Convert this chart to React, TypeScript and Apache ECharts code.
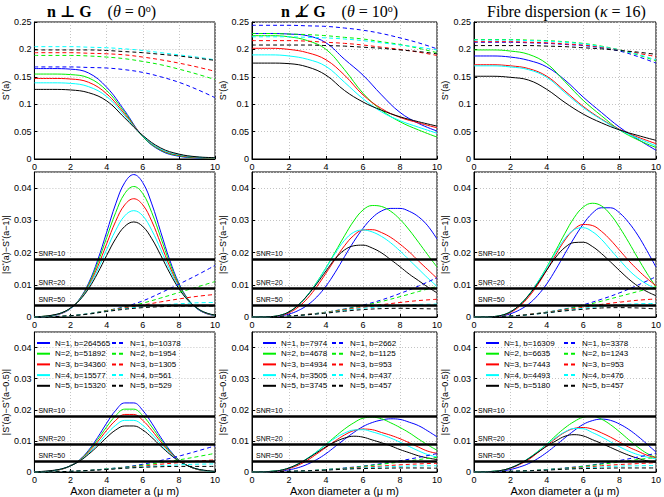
import React, { useEffect, useRef } from "react";
import * as echarts from "echarts";

// ---------- axes grids ----------
const X_COARSE = [0, 1, 2, 3, 4, 5, 6, 7, 8, 9, 10];
const X_FINE = [0, 0.5, 1, 1.5, 2, 2.5, 3, 3.5, 4, 4.5, 5, 5.5, 6, 6.5, 7, 7.5, 8, 8.5, 9, 9.5, 10];
const COLORS = ["#0000ff", "#00ee00", "#ff0000", "#00ffff", "#000000"];

// ---------- row 1 : S*(a) ----------
const S_PERP_SOLID = [
  [0.165, 0.165, 0.164, 0.157, 0.131, 0.088, 0.041, 0.015, 0.005, 0.002, 0.001],
  [0.155, 0.155, 0.154, 0.148, 0.125, 0.085, 0.041, 0.016, 0.006, 0.0025, 0.0012],
  [0.147, 0.147, 0.146, 0.14, 0.119, 0.082, 0.042, 0.017, 0.007, 0.003, 0.0015],
  [0.139, 0.139, 0.138, 0.132, 0.114, 0.079, 0.042, 0.018, 0.008, 0.0035, 0.002],
  [0.127, 0.127, 0.126, 0.121, 0.106, 0.075, 0.043, 0.02, 0.009, 0.004, 0.0025],
];
const S_PERP_DASHED = [
  [0.168, 0.168, 0.168, 0.167, 0.166, 0.163, 0.158, 0.15, 0.14, 0.127, 0.112],
  [0.189, 0.189, 0.189, 0.188, 0.186, 0.183, 0.178, 0.172, 0.164, 0.155, 0.145],
  [0.194, 0.194, 0.194, 0.193, 0.192, 0.19, 0.186, 0.181, 0.175, 0.168, 0.16],
  [0.205, 0.205, 0.205, 0.204, 0.203, 0.201, 0.198, 0.194, 0.19, 0.186, 0.181],
  [0.199, 0.199, 0.199, 0.199, 0.198, 0.196, 0.194, 0.191, 0.188, 0.184, 0.18],
];
const S_TILT_SOLID = [
  [0.229, 0.229, 0.228, 0.225, 0.212, 0.182, 0.153, 0.117, 0.085, 0.065, 0.051],
  [0.225, 0.225, 0.223, 0.216, 0.2, 0.163, 0.12, 0.089, 0.068, 0.053, 0.04],
  [0.202, 0.202, 0.2, 0.194, 0.181, 0.153, 0.117, 0.092, 0.076, 0.066, 0.057],
  [0.19, 0.19, 0.188, 0.182, 0.169, 0.14, 0.11, 0.086, 0.07, 0.058, 0.047],
  [0.175, 0.175, 0.174, 0.168, 0.153, 0.125, 0.104, 0.089, 0.077, 0.068, 0.06],
];
const S_TILT_DASHED = [
  [0.244, 0.244, 0.244, 0.243, 0.242, 0.239, 0.235, 0.229, 0.221, 0.212, 0.201],
  [0.229, 0.229, 0.228, 0.227, 0.225, 0.222, 0.219, 0.214, 0.209, 0.202, 0.194],
  [0.216, 0.216, 0.216, 0.215, 0.213, 0.211, 0.208, 0.204, 0.2, 0.195, 0.189],
  [0.223, 0.223, 0.223, 0.222, 0.221, 0.219, 0.216, 0.212, 0.208, 0.204, 0.199],
  [0.208, 0.208, 0.208, 0.208, 0.207, 0.206, 0.204, 0.202, 0.199, 0.196, 0.192],
];
const S_DISP_SOLID = [
  [0.188, 0.188, 0.186, 0.18, 0.168, 0.144, 0.113, 0.085, 0.058, 0.036, 0.016],
  [0.199, 0.199, 0.197, 0.191, 0.174, 0.141, 0.107, 0.079, 0.053, 0.035, 0.021],
  [0.172, 0.172, 0.17, 0.165, 0.151, 0.124, 0.096, 0.073, 0.054, 0.04, 0.028],
  [0.17, 0.17, 0.168, 0.163, 0.149, 0.121, 0.094, 0.072, 0.053, 0.038, 0.024],
  [0.151, 0.151, 0.149, 0.144, 0.127, 0.103, 0.082, 0.066, 0.053, 0.043, 0.034],
];
const S_DISP_DASHED = [
  [0.213, 0.213, 0.213, 0.212, 0.211, 0.209, 0.207, 0.203, 0.197, 0.187, 0.175],
  [0.218, 0.218, 0.218, 0.217, 0.216, 0.214, 0.211, 0.206, 0.199, 0.19, 0.179],
  [0.214, 0.214, 0.214, 0.213, 0.212, 0.21, 0.208, 0.204, 0.199, 0.193, 0.187],
  [0.217, 0.217, 0.217, 0.216, 0.215, 0.213, 0.21, 0.205, 0.199, 0.191, 0.181],
  [0.207, 0.207, 0.207, 0.207, 0.206, 0.205, 0.203, 0.201, 0.198, 0.195, 0.191],
];

// ---------- row 2 : |S*(a) - S*(a-1)| ----------
const D1_PERP_SOLID = [
  [0, 0.0001, 0.0004, 0.0011, 0.0026, 0.0056, 0.0105, 0.0176, 0.0263, 0.0351, 0.0417, 0.0442, 0.0417, 0.0351, 0.0263, 0.0176, 0.0105, 0.0056, 0.0026, 0.0011, 0.0004],
  [0, 0.0002, 0.0005, 0.0012, 0.0027, 0.0055, 0.0101, 0.0167, 0.0246, 0.0324, 0.0383, 0.0405, 0.0383, 0.0324, 0.0246, 0.0167, 0.0101, 0.0055, 0.0027, 0.0012, 0.0005],
  [0.0001, 0.0002, 0.0005, 0.0012, 0.0027, 0.0054, 0.0097, 0.0156, 0.0227, 0.0297, 0.0348, 0.0367, 0.0348, 0.0297, 0.0227, 0.0156, 0.0097, 0.0054, 0.0027, 0.0012, 0.0005],
  [0.0001, 0.0002, 0.0005, 0.0013, 0.0027, 0.0053, 0.0093, 0.0146, 0.0209, 0.0269, 0.0314, 0.033, 0.0314, 0.0269, 0.0209, 0.0146, 0.0093, 0.0053, 0.0027, 0.0013, 0.0005],
  [0.0001, 0.0002, 0.0006, 0.0013, 0.0028, 0.0052, 0.0088, 0.0136, 0.0191, 0.0243, 0.0281, 0.0295, 0.0281, 0.0243, 0.0191, 0.0136, 0.0088, 0.0052, 0.0028, 0.0013, 0.0006],
];
const D1_PERP_DASHED = [
  [0, 0.0001, 0.0004, 0.001, 0.002, 0.0032, 0.005, 0.0075, 0.0102, 0.013, 0.016],
  [0, 0.0001, 0.0004, 0.001, 0.002, 0.003, 0.0043, 0.0059, 0.0076, 0.0093, 0.011],
  [0, 0.0001, 0.0004, 0.001, 0.0019, 0.0028, 0.0037, 0.0047, 0.0056, 0.0064, 0.007],
  [0, 0.0001, 0.0004, 0.001, 0.0018, 0.0026, 0.0032, 0.0037, 0.0041, 0.0044, 0.0045],
  [0, 0.0001, 0.0004, 0.0009, 0.0017, 0.0024, 0.0029, 0.0032, 0.0034, 0.0034, 0.0034],
];
const D1_TILT_SOLID = [
  [0, 0, 0.0001, 0.0003, 0.0009, 0.002, 0.0037, 0.0062, 0.0096, 0.0139, 0.0187, 0.0234, 0.0275, 0.0308, 0.0329, 0.0337, 0.0337, 0.0328, 0.0311, 0.0283, 0.0242],
  [0, 0, 0.0001, 0.0005, 0.0016, 0.0037, 0.0068, 0.0108, 0.0153, 0.0202, 0.0252, 0.0298, 0.0332, 0.0346, 0.0343, 0.0328, 0.0303, 0.027, 0.0232, 0.0193, 0.0155],
  [0, 0, 0.0001, 0.0004, 0.0013, 0.0031, 0.0058, 0.0094, 0.0136, 0.018, 0.0221, 0.0253, 0.027, 0.0271, 0.0262, 0.0247, 0.0226, 0.0202, 0.0174, 0.0147, 0.012],
  [0, 0, 0.0001, 0.0005, 0.0016, 0.0037, 0.0068, 0.0107, 0.0152, 0.0198, 0.0238, 0.0263, 0.027, 0.0264, 0.025, 0.023, 0.0205, 0.0177, 0.0149, 0.0121, 0.0095],
  [0, 0, 0.0001, 0.0005, 0.0016, 0.0037, 0.0067, 0.0103, 0.0143, 0.0181, 0.0208, 0.0221, 0.0223, 0.0214, 0.0199, 0.0178, 0.0156, 0.0133, 0.0113, 0.0093, 0.0075],
];
const D1_TILT_DASHED = [
  [0, 0.0001, 0.0003, 0.0008, 0.0015, 0.0025, 0.0037, 0.0053, 0.0073, 0.0096, 0.0122],
  [0, 0.0001, 0.0003, 0.0008, 0.0015, 0.0024, 0.0035, 0.0048, 0.0063, 0.0079, 0.0095],
  [0, 0.0001, 0.0003, 0.0008, 0.0014, 0.0022, 0.003, 0.0038, 0.0045, 0.0051, 0.0055],
  [0, 0.0001, 0.0003, 0.0007, 0.0013, 0.002, 0.0027, 0.0032, 0.0036, 0.0039, 0.004],
  [0, 0.0001, 0.0003, 0.0007, 0.0012, 0.0018, 0.0023, 0.0026, 0.0027, 0.0026, 0.0025],
];
const D1_DISP_SOLID = [
  [0, 0, 0.0001, 0.0003, 0.001, 0.0022, 0.004, 0.0067, 0.0103, 0.0148, 0.0197, 0.0245, 0.0288, 0.0322, 0.0339, 0.0339, 0.0323, 0.0293, 0.0254, 0.0206, 0.0155],
  [0, 0, 0.0001, 0.0005, 0.0016, 0.0037, 0.0068, 0.0108, 0.0155, 0.0207, 0.026, 0.0308, 0.0341, 0.0353, 0.0345, 0.0318, 0.0278, 0.0232, 0.0183, 0.0136, 0.0093],
  [0, 0, 0.0001, 0.0004, 0.0014, 0.0033, 0.0062, 0.01, 0.0146, 0.0194, 0.0239, 0.0272, 0.0287, 0.0284, 0.0266, 0.0239, 0.0207, 0.0175, 0.0146, 0.012, 0.0097],
  [0, 0, 0.0001, 0.0005, 0.0016, 0.0037, 0.0068, 0.0108, 0.0153, 0.0201, 0.0244, 0.0271, 0.0277, 0.0265, 0.0241, 0.0209, 0.0177, 0.0146, 0.0121, 0.0102, 0.0088],
  [0, 0, 0.0001, 0.0005, 0.0016, 0.0037, 0.0067, 0.0104, 0.0146, 0.0186, 0.0216, 0.0231, 0.0232, 0.0219, 0.0197, 0.0171, 0.0144, 0.0118, 0.0096, 0.0079, 0.0066],
];
const D1_DISP_DASHED = [
  [0, 0.0001, 0.0003, 0.0008, 0.0015, 0.0025, 0.0038, 0.0055, 0.0075, 0.0099, 0.0125],
  [0, 0.0001, 0.0003, 0.0008, 0.0015, 0.0024, 0.0035, 0.0049, 0.0064, 0.0079, 0.0094],
  [0, 0.0001, 0.0003, 0.0008, 0.0014, 0.0022, 0.003, 0.0039, 0.0046, 0.0052, 0.0056],
  [0, 0.0001, 0.0003, 0.0007, 0.0013, 0.002, 0.0027, 0.0033, 0.0038, 0.0041, 0.0042],
  [0, 0.0001, 0.0003, 0.0007, 0.0013, 0.0019, 0.0024, 0.0028, 0.0029, 0.0028, 0.0025],
];

// ---------- row 3 : |S*(a) - S*(a-0.5)| ----------
const DH_PERP_SOLID = [
  [0, 0.0001, 0.0004, 0.0009, 0.002, 0.0039, 0.007, 0.0111, 0.0157, 0.0198, 0.0222, 0.0222, 0.0198, 0.0157, 0.0111, 0.007, 0.0039, 0.002, 0.0009, 0.0004, 0.0001],
  [0, 0.0001, 0.0004, 0.0009, 0.002, 0.0038, 0.0067, 0.0104, 0.0145, 0.0181, 0.0202, 0.0202, 0.0181, 0.0145, 0.0104, 0.0067, 0.0038, 0.002, 0.0009, 0.0004, 0.0001],
  [0.0001, 0.0002, 0.0004, 0.0009, 0.002, 0.0037, 0.0064, 0.0097, 0.0134, 0.0166, 0.0185, 0.0185, 0.0166, 0.0134, 0.0097, 0.0064, 0.0037, 0.002, 0.0009, 0.0004, 0.0002],
  [0.0001, 0.0002, 0.0004, 0.001, 0.002, 0.0036, 0.006, 0.009, 0.0122, 0.015, 0.0166, 0.0166, 0.015, 0.0122, 0.009, 0.006, 0.0036, 0.002, 0.001, 0.0004, 0.0002],
  [0.0001, 0.0002, 0.0005, 0.001, 0.002, 0.0035, 0.0057, 0.0083, 0.0111, 0.0135, 0.0148, 0.0148, 0.0135, 0.0111, 0.0083, 0.0057, 0.0035, 0.002, 0.001, 0.0005, 0.0002],
];
const DH_PERP_DASHED = [
  [0, 0.0001, 0.0002, 0.0005, 0.001, 0.0016, 0.0025, 0.0037, 0.0051, 0.0067, 0.0084],
  [0, 0.0001, 0.0002, 0.0005, 0.001, 0.0015, 0.0022, 0.003, 0.0039, 0.0049, 0.006],
  [0, 0.0001, 0.0002, 0.0005, 0.0009, 0.0014, 0.0019, 0.0025, 0.003, 0.0035, 0.0039],
  [0, 0.0001, 0.0002, 0.0005, 0.0009, 0.0013, 0.0017, 0.002, 0.0023, 0.0025, 0.0026],
  [0, 0.0001, 0.0002, 0.0005, 0.0008, 0.0012, 0.0015, 0.0017, 0.0018, 0.0018, 0.0018],
];
const DH_TILT_SOLID = [
  [0, 0, 0.0001, 0.0003, 0.0007, 0.0014, 0.0025, 0.004, 0.0059, 0.0082, 0.0105, 0.0127, 0.0146, 0.0159, 0.0167, 0.0171, 0.0169, 0.016, 0.0149, 0.0132, 0.0113],
  [0, 0, 0.0002, 0.0005, 0.0013, 0.0026, 0.0044, 0.0065, 0.0089, 0.0114, 0.0138, 0.0158, 0.0173, 0.0176, 0.0171, 0.0158, 0.0143, 0.0126, 0.0106, 0.0087, 0.007],
  [0, 0, 0.0001, 0.0004, 0.0011, 0.0022, 0.0038, 0.0058, 0.0079, 0.01, 0.0119, 0.0133, 0.0138, 0.0136, 0.0127, 0.0118, 0.0107, 0.0094, 0.008, 0.0067, 0.006],
  [0, 0, 0.0002, 0.0005, 0.0013, 0.0026, 0.0044, 0.0065, 0.0088, 0.0109, 0.0125, 0.0135, 0.0136, 0.0129, 0.012, 0.0109, 0.0096, 0.0082, 0.0068, 0.0056, 0.0048],
  [0, 0, 0.0002, 0.0005, 0.0013, 0.0026, 0.0043, 0.0062, 0.0081, 0.0097, 0.0109, 0.0115, 0.0112, 0.0103, 0.0094, 0.0084, 0.0072, 0.0062, 0.0052, 0.0045, 0.004],
];
const DH_TILT_DASHED = [
  [0, 0.0001, 0.0002, 0.0004, 0.0008, 0.0013, 0.0019, 0.0027, 0.0036, 0.0047, 0.0059],
  [0, 0.0001, 0.0002, 0.0004, 0.0008, 0.0012, 0.0018, 0.0025, 0.0032, 0.004, 0.0047],
  [0, 0.0001, 0.0002, 0.0004, 0.0007, 0.0011, 0.0015, 0.0019, 0.0023, 0.0026, 0.0028],
  [0, 0.0001, 0.0002, 0.0004, 0.0007, 0.001, 0.0013, 0.0016, 0.0018, 0.002, 0.002],
  [0, 0.0001, 0.0002, 0.0004, 0.0006, 0.0009, 0.0011, 0.0012, 0.0013, 0.0013, 0.0012],
];
const DH_DISP_SOLID = [
  [0, 0, 0.0001, 0.0003, 0.0008, 0.0016, 0.0027, 0.0043, 0.0063, 0.0086, 0.011, 0.0133, 0.0153, 0.0165, 0.017, 0.0166, 0.0154, 0.0137, 0.0115, 0.009, 0.0064],
  [0, 0, 0.0002, 0.0005, 0.0013, 0.0026, 0.0044, 0.0066, 0.009, 0.0117, 0.0142, 0.0162, 0.0176, 0.0179, 0.017, 0.0152, 0.0129, 0.0104, 0.008, 0.006, 0.0046],
  [0, 0, 0.0001, 0.0005, 0.0012, 0.0024, 0.004, 0.0062, 0.0085, 0.0108, 0.0128, 0.014, 0.0143, 0.0138, 0.0126, 0.0112, 0.0096, 0.008, 0.0067, 0.0054, 0.0046],
  [0, 0, 0.0002, 0.0005, 0.0013, 0.0026, 0.0044, 0.0065, 0.0089, 0.0111, 0.0129, 0.014, 0.0139, 0.0127, 0.0113, 0.0097, 0.0081, 0.0067, 0.0056, 0.0048, 0.0042],
  [0, 0, 0.0002, 0.0005, 0.0013, 0.0026, 0.0043, 0.0063, 0.0083, 0.01, 0.0115, 0.012, 0.0116, 0.0104, 0.0092, 0.0079, 0.0066, 0.0054, 0.0044, 0.0036, 0.0031],
];
const DH_DISP_DASHED = [
  [0, 0.0001, 0.0002, 0.0004, 0.0008, 0.0013, 0.0019, 0.0027, 0.0037, 0.0048, 0.006],
  [0, 0.0001, 0.0002, 0.0004, 0.0008, 0.0012, 0.0018, 0.0025, 0.0032, 0.004, 0.0047],
  [0, 0.0001, 0.0002, 0.0004, 0.0007, 0.0011, 0.0015, 0.002, 0.0024, 0.0027, 0.003],
  [0, 0.0001, 0.0002, 0.0004, 0.0007, 0.001, 0.0013, 0.0016, 0.0019, 0.002, 0.0021],
  [0, 0.0001, 0.0002, 0.0004, 0.0006, 0.0009, 0.0011, 0.0012, 0.0013, 0.0013, 0.0013],
];

// ---------- legends / labels ----------
const LEGEND_SOLID = [
  ["N=1, b=264565", "N=2, b=51892", "N=3, b=34360", "N=4, b=15577", "N=5, b=15320"],
  ["N=1, b=7974", "N=2, b=4678", "N=3, b=4934", "N=4, b=3505", "N=5, b=3745"],
  ["N=1, b=16309", "N=2, b=6635", "N=3, b=7443", "N=4, b=4493", "N=5, b=5180"],
];
const LEGEND_DASHED = [
  ["N=1, b=10378", "N=2, b=1954", "N=3, b=1305", "N=4, b=561", "N=5, b=529"],
  ["N=1, b=2662", "N=2, b=1125", "N=3, b=953", "N=4, b=437", "N=5, b=457"],
  ["N=1, b=3378", "N=2, b=1243", "N=3, b=953", "N=4, b=476", "N=5, b=457"],
];
const SNR_LEVELS = [10, 20, 50];
const SNR_THRESHOLDS = [0.018, 0.009, 0.0036];
const Y_NAMES = ["S{s|*}(a)", "|S{s|*}(a)\u2212S{s|*}(a\u22121)|", "|S{s|*}(a)\u2212S{s|*}(a\u22120.5)|"];
const X_NAME = "Axon diameter a (\u03bc m)";

const PANEL_DATA = [
  [[S_PERP_SOLID, S_PERP_DASHED], [S_TILT_SOLID, S_TILT_DASHED], [S_DISP_SOLID, S_DISP_DASHED]],
  [[D1_PERP_SOLID, D1_PERP_DASHED], [D1_TILT_SOLID, D1_TILT_DASHED], [D1_DISP_SOLID, D1_DISP_DASHED]],
  [[DH_PERP_SOLID, DH_PERP_DASHED], [DH_TILT_SOLID, DH_TILT_DASHED], [DH_DISP_SOLID, DH_DISP_DASHED]],
];

// ---------- layout ----------
const COL_LEFT = [30, 252, 474];
const COL_WIDTH = 185;
const ROW_TOP = [22, 172, 332];
const ROW_HEIGHT = [137, 145, 143];
const SANS = "Liberation Sans, Arial, Helvetica, sans-serif";
const SERIF = "Liberation Serif, DejaVu Serif, Times New Roman, serif";

const pair = (xs: number[], ys: number[]) => xs.map((x, i) => [x, ys[i]]);

function buildOption() {
  const grid: any[] = [];
  const xAxis: any[] = [];
  const yAxis: any[] = [];
  const series: any[] = [];
  const legend: any[] = [];

  for (let r = 0; r < 3; r++) {
    for (let c = 0; c < 3; c++) {
      const idx = r * 3 + c;
      grid.push({
        left: COL_LEFT[c],
        top: ROW_TOP[r],
        width: COL_WIDTH,
        height: ROW_HEIGHT[r],
        show: true,
        borderColor: "#000",
        borderWidth: 1,
        backgroundColor: "#fff",
      });
      xAxis.push({
        gridIndex: idx,
        type: "value",
        min: 0,
        max: 10,
        interval: 2,
        axisLine: { show: true, onZero: false, lineStyle: { color: "#000", width: 1 } },
        axisTick: { show: true, inside: true, length: 3, lineStyle: { color: "#000" } },
        axisLabel: { fontSize: 9, color: "#000", margin: 3, fontFamily: SANS },
        splitLine: { show: true, lineStyle: { type: [1, 2], color: "#c4c4c4", width: 1 } },
        name: r === 2 ? X_NAME : "",
        nameLocation: "middle",
        nameGap: 13,
        nameTextStyle: { fontSize: 11, color: "#000", fontFamily: SANS },
      });
      yAxis.push({
        gridIndex: idx,
        type: "value",
        min: 0,
        max: r === 0 ? 0.25 : 0.045,
        interval: r === 0 ? 0.05 : 0.01,
        axisLine: { show: true, onZero: false, lineStyle: { color: "#000", width: 1 } },
        axisTick: { show: true, inside: true, length: 3, lineStyle: { color: "#000" } },
        axisLabel: {
          fontSize: 9,
          color: "#000",
          margin: 3,
          fontFamily: SANS,
          showMaxLabel: r === 0,
        },
        splitLine: { show: true, lineStyle: { type: [1, 2], color: "#c4c4c4", width: 1 } },
        name: Y_NAMES[r],
        nameLocation: "middle",
        nameGap: 17,
        nameTextStyle: {
          fontSize: 9,
          color: "#000",
          fontFamily: SANS,
          rich: { s: { fontSize: 6, fontFamily: SANS, color: "#000", verticalAlign: "top" } },
        },
      });

      const [solid, dashed] = PANEL_DATA[r][c];
      const xs = r === 0 ? X_COARSE : X_FINE;
      solid.forEach((ys: number[], k: number) => {
        const s: any = {
          type: "line",
          xAxisIndex: idx,
          yAxisIndex: idx,
          data: pair(xs, ys),
          symbol: "none",
          showSymbol: false,
          smooth: 0.4,
          silent: true,
          lineStyle: { color: COLORS[k], width: 1, type: "solid" },
          itemStyle: { color: COLORS[k] },
          z: 3,
        };
        if (r === 2) s.name = LEGEND_SOLID[c][k];
        if (r > 0 && k === 0) {
          s.markLine = {
            silent: true,
            symbol: ["none", "none"],
            precision: 5,
            animation: false,
            lineStyle: { color: "#000", width: 2.5, type: "solid" },
            label: {
              show: true,
              position: "insideStartTop",
              formatter: "{b}",
              fontSize: 7,
              color: "#000",
              fontFamily: SANS,
              distance: [4, 2],
            },
            emphasis: { disabled: true },
            data: SNR_LEVELS.map((lvl, j) => ({ name: "SNR=" + lvl, yAxis: SNR_THRESHOLDS[j] })),
          };
        }
        series.push(s);
      });
      dashed.forEach((ys: number[], k: number) => {
        const s: any = {
          type: "line",
          xAxisIndex: idx,
          yAxisIndex: idx,
          data: pair(X_COARSE, ys),
          symbol: "none",
          showSymbol: false,
          smooth: 0.4,
          silent: true,
          lineStyle: { color: COLORS[k], width: 1, type: [4, 3] },
          itemStyle: { color: COLORS[k] },
          z: 3,
        };
        if (r === 2) s.name = LEGEND_DASHED[c][k];
        series.push(s);
      });
    }
  }

  const legendLeftSolid = [35, 261, 484];
  const legendLeftDashed = [110, 330, 562];
  for (let c = 0; c < 3; c++) {
    const common = {
      orient: "vertical",
      top: 337,
      itemWidth: 13,
      itemHeight: 10,
      itemGap: 0.7,
      padding: 1,
      selectedMode: false,
      itemStyle: { opacity: 0, color: "transparent", borderWidth: 0 },
      textStyle: { fontSize: 8, color: "#000", fontFamily: SANS, lineHeight: 10 },
    };
    legend.push({ ...common, left: legendLeftSolid[c], data: LEGEND_SOLID[c] });
    legend.push({ ...common, left: legendLeftDashed[c], data: LEGEND_DASHED[c] });
  }

  const titleRich = {
    b: { fontWeight: "bold", fontSize: 16, fontFamily: SERIF, fill: "#000" },
    i: { fontStyle: "italic", fontSize: 16, fontFamily: SERIF, fill: "#000" },
    s: { fontSize: 10, fontFamily: SERIF, fill: "#000", verticalAlign: "top" },
  };
  const titles = [
    "{b|n \u22a5 G}    ({i|\u03b8} = 0{s|o})",
    "{b|n \u22a5\u0338 G}    ({i|\u03b8} = 10{s|o})",
    "Fibre dispersion ({i|\u03ba} = 16)",
  ];
  const titleX = [101.5, 339.5, 566.5];
  const graphic = titles.map((t, c) => ({
    type: "text",
    x: titleX[c],
    y: 11,
    silent: true,
    style: {
      text: t,
      align: "center",
      verticalAlign: "middle",
      textAlign: "center",
      textVerticalAlign: "middle",
      fontSize: 16,
      fontFamily: SERIF,
      fill: "#000",
      rich: titleRich,
    },
  }));

  return {
    animation: false,
    backgroundColor: "#fff",
    grid,
    xAxis,
    yAxis,
    series,
    legend,
    graphic,
  };
}

export default function App() {
  const ref = useRef<HTMLDivElement>(null);
  useEffect(() => {
    if (!ref.current) return;
    const chart = echarts.init(ref.current, undefined, { renderer: "svg" });
    chart.setOption(buildOption() as any);
    return () => chart.dispose();
  }, []);
  return (
    <div
      ref={ref}
      style={{ position: "fixed", left: 0, top: 0, width: 664, height: 497, background: "#fff" }}
    />
  );
}
